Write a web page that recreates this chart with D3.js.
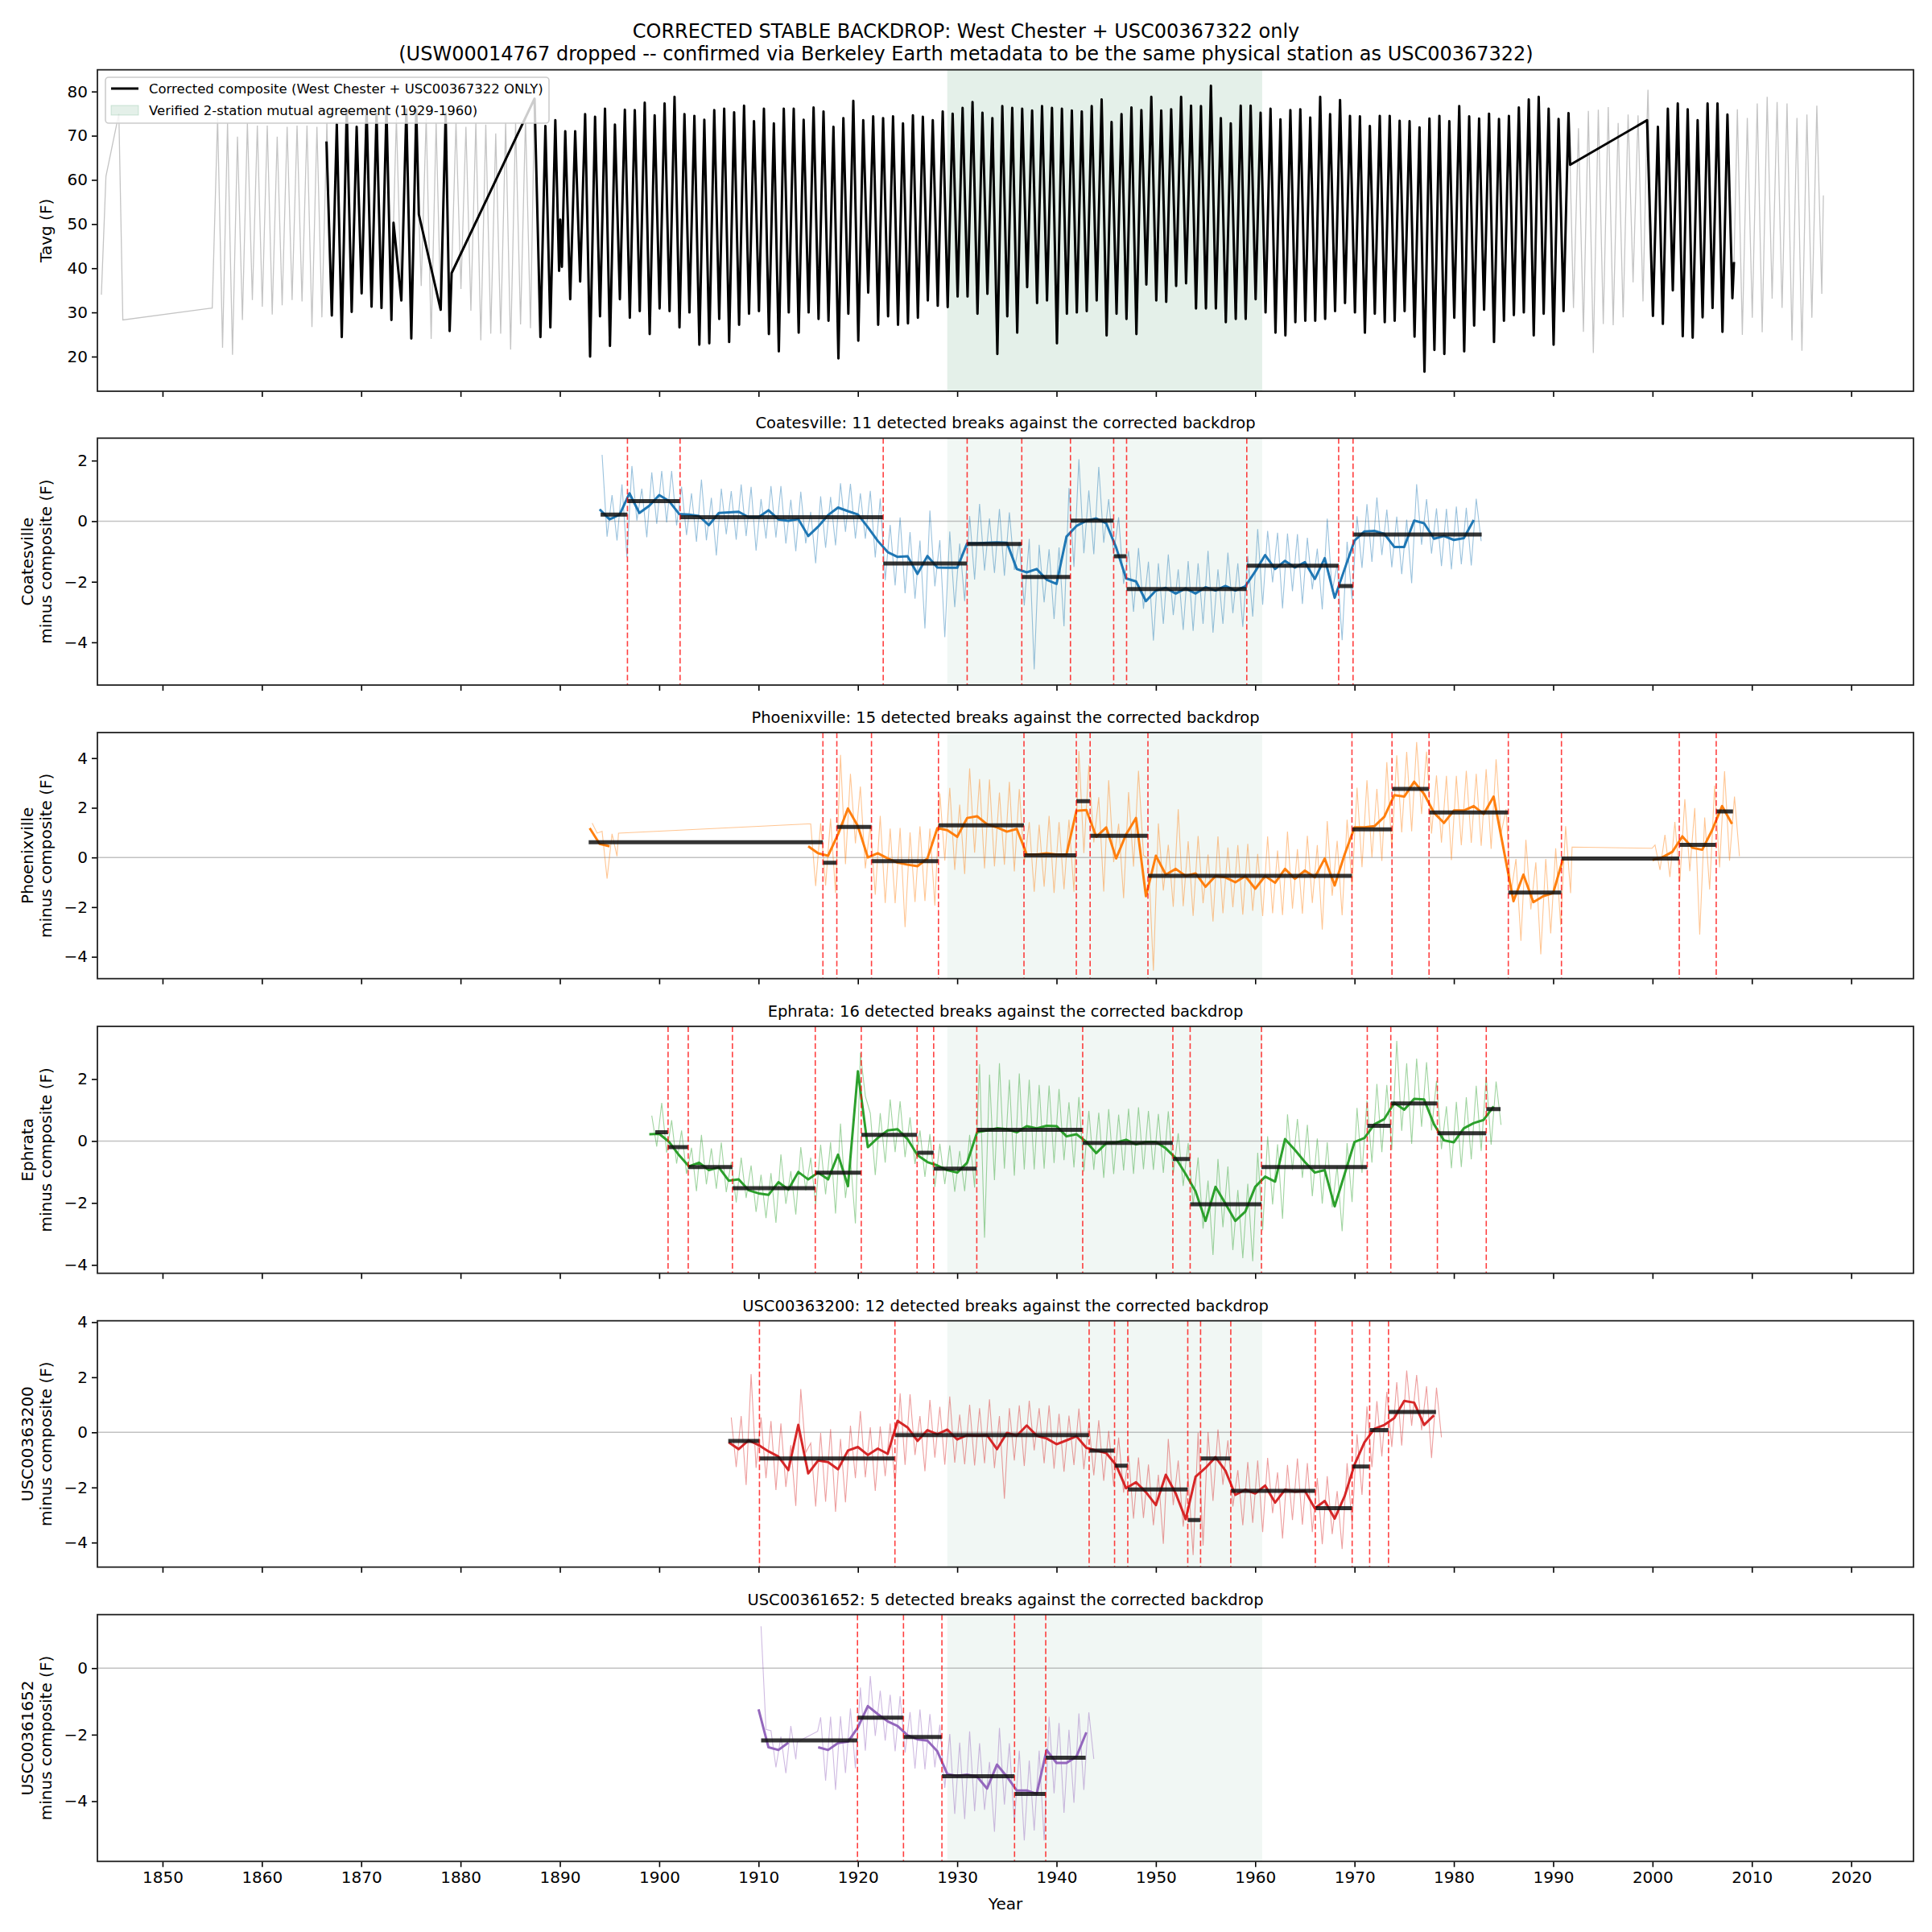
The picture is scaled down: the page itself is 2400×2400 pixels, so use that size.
<!DOCTYPE html>
<html lang="en">
<head>
<meta charset="UTF-8">
<title>Corrected stable backdrop</title>
<script src="https://cdn.jsdelivr.net/npm/d3@7/dist/d3.min.js"></script>
<style>
  body { margin: 0; background: #fff; }
  svg { display: block; font-family: "DejaVu Sans", sans-serif; }
</style>
</head>
<body>
<div id="chart"></div>
<script>
// ---- top panel: corrected composite (Jan troughs / Jul peaks, deg F) ----
const compEarlyYear0 = 1867
const compEarlyJan = [29.3, 24.4, 30.1, 34.3, 31.3, 31.0, 28.3, 32.7, 24.1]
const compEarlyJul = [72.6, 76.0, 72.0, 76.0, 75.0, 76.0, null, 76.0, 76.0]

const compMainYear0 = 1888
const compMainJan = [
  24.4, 26.6, 51.0, 33.0, 37.0, 20.0, 29.1, 22.4, 33.0, 28.8,
  30.3, 25.1, 30.9, 30.3, 26.6, 30.0, 22.7, 23.0, 28.5, 23.3,
  27.2, 29.7, 30.3, 25.1, 21.2, 30.0, 25.4, 30.0, 28.5, 28.1,
  19.6, 29.7, 23.6, 34.5, 27.2, 29.1, 27.2, 27.5, 28.8, 32.7,
  31.5, 31.2, 33.6, 33.6, 29.7, 34.2, 20.6, 29.1, 25.4, 35.7,
  32.1, 32.7, 23.0, 29.7, 30.0, 30.3, 32.7, 24.8, 29.7, 28.5,
  25.1, 36.3, 32.7, 32.4, 36.0, 36.6, 30.9, 30.9, 30.9, 27.8,
  28.5, 28.5, 33.0, 30.0, 25.4, 24.8, 27.8, 28.1, 28.1, 28.5,
  30.3, 32.1, 30.0, 25.4, 29.7, 27.8, 28.1, 30.3, 24.5, 16.6,
  21.5, 20.6, 28.8, 21.2, 27.0, 30.6, 23.3, 28.1, 29.4, 30.0,
  24.8, 29.7, 22.7, 30.3
]
const compMainJul = [
  72.2, 73.5, 71.0, 71.0, 74.9, 74.3, 76.1, 72.5, 75.9, 75.8,
  77.5, 74.6, 77.3, 78.8, 74.9, 74.5, 73.6, 75.8, 76.1, 75.3,
  76.8, 73.3, 76.1, 72.8, 76.1, 76.1, 73.6, 76.4, 75.5, 72.0,
  74.0, 77.9, 73.5, 74.4, 74.0, 74.4, 72.8, 74.6, 74.3, 73.5,
  75.5, 75.0, 76.3, 77.6, 75.2, 74.0, 76.7, 76.3, 76.1, 75.7,
  76.7, 76.3, 76.1, 75.7, 75.5, 76.7, 78.2, 73.1, 74.9, 76.4,
  75.8, 78.8, 75.7, 76.0, 78.8, 76.8, 76.7, 81.3, 74.0, 72.8,
  76.8, 76.8, 75.2, 76.1, 73.7, 75.8, 76.0, 74.1, 78.8, 74.9,
  78.1, 74.5, 74.4, 72.2, 74.5, 74.5, 73.4, 73.3, 71.9, 73.9,
  74.5, 73.3, 76.7, 74.4, 73.9, 75.0, 73.8, 74.5, 76.4, 78.2,
  78.8, 76.1, 73.8, 75.1
]

const compLateYear0 = 2000
const compLateJan = [29.2, 27.4, 35.0, 24.6, 24.3, 28.9, 31.0, 25.6, 33.2]
const compLateJul = [72.0, 76.1, 77.3, 76.0, 73.5, 77.3, 77.3, 74.8]

// odd months, partial years and the straight runs across gaps
const compExtra = [
  [1866.5, 68.7], [1873.25, 50.3], [1875.8, 52.2], [1878.0, 30.6], [1878.5, 75.0],
  [1878.9, 25.8], [1879.1, 38.9], [1887.45, 78.4], [1889.92, 39.4], [1890.2, 40.3],
  [1991.7, 63.4], [1999.45, 73.5], [2008.2, 41.4]
]

// grey raw record where the composite has no data
const grayYears = [
  1855, 1856, 1857, 1858, 1859, 1860, 1861, 1862, 1863, 1864, 1865, 1866,
  1873, 1876, 1877,
  1879, 1880, 1881, 1882, 1883, 1884, 1885, 1886, 1887,
  1992, 1993, 1994, 1995, 1996, 1997, 1998, 1999,
  2008, 2009, 2010, 2011, 2012, 2013, 2014, 2015, 2016, 2017
]
const grayJan = [
  null, 22.0, 20.4, 28.3, 32.8, 31.3, 29.5, 31.6, 32.8, 32.5, 26.7, 28.9,
  null, 36.0, 24.0,
  null, 35.3, 30.4, 23.7, 25.2, 25.2, 21.6, 27.3, 26.4,
  31.0, 25.6, 20.8, 27.4, 27.1, 28.9, 36.8, 32.5,
  null, 24.9, 28.8, 25.5, 33.1, 31.0, 23.7, 21.3, 28.8, 34.2
]
const grayJul = [
  74.1, 72.9, 69.8, 72.9, 72.3, 72.3, 69.8, 72.0, 72.3, 72.3, 72.0, 73.0,
  74.0, 74.0, 73.0,
  73.0, 72.0, 73.0, 72.5, 70.5, 73.0, 73.0, 74.0, null,
  71.7, 75.6, 75.9, 76.5, 72.9, 74.8, 74.6, 80.4,
  76.0, 74.0, 77.3, 78.8, 77.6, 77.3, 74.0, 74.8, 76.8, null
]
const grayExtra = [[1843.84, 34.0], [1844.3, 60.8], [1845.6, 75.0], [1846.0, 28.3], [1855.0, 31.0], [2017.2, 56.5]]

const agreeSpan = [1929.0, 1960.7]

// ---- station minus composite (deg F): annual means, monthly spread, segments, breaks ----
const coYear0 = 1894
const coAnnual = [
  0.39, 0.06, 0.21, 0.92, 0.27, 0.51, 0.86, 0.66, 0.24, 0.22,
  0.17, -0.13, 0.27, 0.29, 0.31, 0.13, 0.13, 0.36, 0.06, 0.01,
  0.07, -0.49, -0.18, 0.20, 0.45, 0.33, 0.22, -0.20, -0.65, -1.02,
  -1.18, -1.16, -1.74, -1.15, -1.53, -1.54, -1.54, -0.73, -0.73, -0.71,
  -0.70, -0.71, -1.58, -1.69, -1.58, -1.93, -2.07, -0.51, -0.16, 0.01,
  0.09, -0.07, -0.87, -1.89, -1.99, -2.64, -2.29, -2.20, -2.39, -2.22,
  -2.39, -2.18, -2.29, -2.14, -2.29, -2.15, -1.66, -1.12, -1.58, -1.31,
  -1.53, -1.35, -1.91, -1.22, -2.53, -1.58, -0.64, -0.34, -0.32, -0.42,
  -0.85, -0.85, 0.02, -0.07, -0.58, -0.49, -0.62, -0.56, 0.04
]
const coUp = [
  1.8, 0.8, 1.0, 0.9, 0.8, 1.1, 0.8, 1.0, 0.9, 0.7,
  1.2, 0.9, 0.8, 0.7, 0.9, 1.0, 0.6, 0.8, 1.1, 0.7,
  0.9, 0.8, 1.0, 0.6, 0.8, 0.9, 0.7, 1.2, 1.4, 0.9,
  1.3, 0.8, 1.1, 1.5, 0.9, 1.2, 0.8, 0.9, 1.3, 0.8,
  1.1, 1.0, 0.9, 1.1, 0.8, 1.0, 1.2, 1.6, 2.2, 1.0,
  1.7, 0.8, 1.0, 0.9, 1.1, 1.3, 0.9, 1.1, 0.8, 0.9,
  1.0, 1.2, 0.7, 1.1, 0.9, 1.0, 1.4, 0.8, 1.2, 0.9,
  1.1, 0.8, 1.0, 1.3, 1.1, 0.9, 0.8, 0.9, 1.1, 0.8,
  1.0, 0.9, 1.2, 0.8, 1.0, 0.9, 1.1, 1.0, 0.7
]
const coDn = [
  0.9, 0.7, 1.4, 0.9, 0.8, 0.6, 0.9, 0.8, 0.7, 0.9,
  0.8, 1.0, 0.7, 0.9, 0.8, 1.1, 0.7, 0.9, 0.8, 1.0,
  0.8, 0.9, 0.7, 1.0, 0.8, 0.9, 0.8, 1.0, 1.3, 1.1,
  1.2, 1.4, 1.8, 1.0, 2.3, 1.3, 1.1, 1.2, 0.9, 1.0,
  1.1, 0.9, 1.2, 3.2, 1.1, 1.3, 1.4, 1.0, 0.9, 1.1,
  0.8, 1.0, 1.2, 1.1, 0.9, 1.3, 1.1, 0.9, 1.2, 1.4,
  1.0, 1.5, 1.1, 0.9, 1.2, 1.0, 1.1, 0.9, 1.3, 1.0,
  1.2, 0.9, 1.0, 1.1, 1.4, 1.0, 0.9, 1.0, 0.8, 1.1,
  0.9, 1.2, 0.8, 1.0, 0.9, 1.1, 0.8, 0.9, 0.7
]
const coSpan = [1894.1, 1982.8]
const coBreaks = [1896.8, 1902.1, 1922.55, 1931.0, 1936.5, 1941.4, 1945.75, 1947.05, 1959.15, 1968.4, 1969.85]
const coLevels = [0.22, 0.66, 0.13, -1.40, -0.75, -1.84, 0.02, -1.16, -2.24, -1.47, -2.14, -0.44]

const phYear0 = 1893
const N19 = [null, null, null, null, null, null, null, null, null, null, null, null, null, null, null, null, null, null, null]
const N8 = [null, null, null, null, null, null, null, null]
const phAnnual = [
  1.18, 0.55, 0.45, ...N19,
  0.45, 0.17, 0.07, 0.93, 1.97, 1.26, 0.00, 0.17, -0.04, -0.21,
  -0.29, -0.35, -0.04, 1.18, 1.10, 0.83, 1.59, 1.66, 1.34, 1.21,
  1.04, 1.15, 0.12, 0.12, 0.17, 0.12, 0.12, 1.88, 1.91, 0.83,
  1.21, -0.04, 0.93, 1.59, -1.56, 0.07, -0.69, -0.46, -0.75, -0.64,
  -1.18, -0.75, -0.80, -1.00, -0.75, -1.26, -0.75, -1.02, -0.46, -0.86,
  -0.53, -0.80, -0.04, -1.13, 0.12, 1.21, 1.21, 1.26, 1.64, 2.51,
  2.45, 3.05, 2.56, 1.80, 1.39, 1.89, 1.89, 2.07, 1.75, 2.45,
  0.35, -1.76, -0.69, -1.80, -1.56, -1.43, -0.04, ...N8,
  -0.10, 0.01, 0.23, 0.85, 0.39, 0.31, 1.10, 2.07, 1.35
]
const phUp = [
  0.2, 0.5, 0.5, ...N19,
  0.9, 1.2, 1.5, 3.2, 1.4, 1.6, 1.3, 1.5, 1.2, 1.4,
  1.3, 1.6, 1.2, 1.4, 1.7, 1.3, 2.0, 1.5, 1.8, 1.4,
  2.0, 1.6, 1.3, 1.2, 1.5, 1.3, 1.4, 2.4, 1.8, 1.6,
  1.9, 1.4, 1.7, 1.9, 1.5, 1.3, 1.2, 2.4, 1.4, 1.5,
  1.3, 1.6, 1.2, 1.5, 1.3, 1.4, 1.6, 1.3, 1.5, 1.2,
  1.4, 1.3, 1.5, 1.8, 1.4, 1.6, 1.9, 1.5, 2.2, 1.6,
  1.8, 1.6, 1.7, 1.5, 1.9, 1.4, 1.6, 1.3, 1.8, 1.5,
  1.6, 1.7, 1.4, 1.6, 1.5, 1.8, 1.3, ...N8,
  0.6, 0.9, 1.2, 1.5, 1.6, 1.3, 1.8, 1.4, 1.1
]
const phDn = [
  0.2, 1.4, 0.4, ...N19,
  1.6, 1.3, 1.5, 1.2, 1.4, 1.7, 1.5, 2.0, 1.8, 2.6,
  1.5, 1.4, 1.9, 1.3, 1.6, 1.5, 1.4, 2.1, 1.7, 1.5,
  1.6, 1.4, 1.5, 1.3, 1.6, 1.4, 1.5, 1.7, 1.3, 2.2,
  1.4, 1.6, 1.3, 1.5, 3.0, 1.4, 1.3, 1.5, 1.6, 1.2,
  1.4, 1.5, 1.2, 1.3, 1.4, 1.1, 1.5, 1.3, 1.6, 1.4,
  1.3, 2.1, 1.5, 1.2, 1.3, 1.6, 1.2, 1.4, 1.3, 1.5,
  1.4, 1.3, 1.6, 1.2, 1.5, 1.4, 1.3, 1.6, 1.4, 1.5,
  1.8, 1.6, 1.4, 2.1, 1.5, 1.3, 1.4, ...N8,
  0.4, 0.8, 1.2, 1.4, 3.5, 1.6, 1.5, 2.2, 1.3
]
const phThinExtra = [[1895.9, 0.98], [1914.95, 1.35], [1991.9, 0.42], [1999.95, 0.37]]
const phSpan = [1892.9, 2008.1]
const phBreaks = [1916.48, 1917.88, 1921.37, 1928.11, 1936.72, 1941.99, 1943.38, 1949.2, 1969.74, 1973.77, 1977.5, 1985.48, 1990.83, 2002.69, 2006.41]
const phLevels = [0.61, -0.21, 1.23, -0.15, 1.29, 0.09, 2.27, 0.87, -0.74, 1.13, 2.76, 1.81, -1.41, -0.04, 0.51, 1.85]

const epYear0 = 1899
const epAnnual = [
  0.22, 0.23, -0.03, -0.46, -0.82, -0.70, -0.94, -0.85, -1.28, -1.24,
  -1.59, -1.69, -1.74, -1.33, -1.57, -1.00, -1.24, -1.02, -1.24, -0.44,
  -1.46, 2.25, -0.20, 0.10, 0.34, 0.38, 0.06, -0.46, -0.68, -0.79,
  -0.94, -1.02, -0.70, 0.28, 0.34, 0.41, 0.38, 0.28, 0.48, 0.41,
  0.49, 0.48, 0.15, 0.22, -0.03, -0.39, -0.07, -0.05, 0.04, -0.11,
  -0.03, -0.03, -0.24, -0.55, -1.07, -1.63, -2.58, -1.48, -2.02, -2.58,
  -2.28, -1.48, -1.15, -1.31, 0.06, -0.29, -0.68, -1.02, -0.94, -2.11,
  -1.07, -0.03, 0.10, 0.54, 0.71, 1.23, 1.01, 1.36, 1.34, 0.54,
  0.02, -0.04, 0.41, 0.58, 0.68, 1.12
]
const epUp = [
  0.6, 1.0, 0.7, 0.8, 0.6, 0.9, 0.7, 0.8, 0.6, 0.7,
  0.8, 0.6, 0.7, 0.9, 0.6, 0.8, 0.7, 0.9, 1.2, 1.0,
  0.9, 0.6, 1.1, 0.8, 1.0, 0.9, 0.7, 0.8, 0.9, 0.7,
  0.8, 0.7, 0.9, 2.2, 1.8, 2.1, 1.6, 1.9, 1.5, 1.4,
  1.3, 1.2, 1.1, 1.2, 1.0, 1.3, 1.1, 0.9, 1.0, 1.2,
  1.0, 0.9, 1.2, 0.8, 1.0, 1.1, 1.3, 0.9, 1.2, 1.0,
  0.9, 1.1, 1.3, 1.2, 0.8, 1.0, 1.2, 1.1, 0.9, 1.3,
  1.0, 1.1, 1.2, 1.3, 1.1, 2.0, 1.5, 1.3, 1.2, 1.4,
  1.1, 1.3, 1.0, 1.2, 1.4, 0.8
]
const epDn = [
  0.4, 0.6, 0.7, 0.6, 0.8, 0.7, 0.6, 0.8, 0.7, 0.6,
  0.7, 0.8, 0.9, 0.7, 0.8, 0.6, 0.8, 0.7, 1.1, 1.4,
  1.2, 0.8, 0.9, 0.8, 0.7, 0.9, 0.8, 0.7, 0.8, 0.6,
  0.7, 0.6, 0.8, 3.4, 1.6, 1.3, 1.5, 1.2, 1.4, 1.3,
  1.2, 1.1, 1.0, 1.2, 0.9, 0.8, 1.0, 0.9, 1.1, 0.8,
  0.9, 1.0, 0.8, 0.9, 1.0, 1.2, 1.1, 1.3, 1.5, 1.2,
  1.6, 1.4, 0.9, 1.2, 1.0, 0.9, 1.1, 1.0, 1.2, 0.8,
  0.9, 1.0, 0.8, 0.9, 1.0, 0.9, 1.1, 0.9, 1.0, 0.8,
  0.9, 0.8, 1.0, 0.9, 0.8, 0.6
]
const epSpan = [1899.6, 1984.7]
const epBreaks = [1900.89, 1902.92, 1907.37, 1915.71, 1920.34, 1925.96, 1927.63, 1931.97, 1942.63, 1951.71, 1953.45, 1960.63, 1971.28, 1973.65, 1978.34, 1983.26]
const epLevels = [0.28, -0.20, -0.84, -1.52, -1.02, 0.20, -0.38, -0.89, 0.36, -0.06, -0.58, -2.04, -0.84, 0.49, 1.21, 0.25, 1.03]

const usYear0 = 1907
const usAnnual = [
  -0.36, -0.61, -0.29, -0.46, -0.69, -0.88, -1.37, 0.27, -1.49, -1.02,
  -1.08, -1.34, -0.66, -0.53, -0.82, -0.59, -0.78, 0.42, 0.18, -0.31,
  0.08, -0.07, 0.10, -0.26, -0.10, -0.12, -0.10, -0.61, -0.02, -0.12,
  0.25, -0.12, -0.22, -0.43, -0.29, -0.14, -0.56, -0.66, -0.75, -1.19,
  -2.03, -1.81, -2.17, -2.64, -1.54, -2.22, -3.15, -1.61, -1.29, -0.90,
  -1.39, -2.27, -2.08, -2.22, -1.93, -2.55, -2.08, -2.15, -2.12, -2.76,
  -2.49, -3.13, -2.32, -1.17, -0.36, 0.13, 0.27, 0.52, 1.14, 1.08,
  0.27, 0.62
]
const usUp = [
  0.9, 1.2, 2.4, 1.0, 1.1, 1.2, 0.9, 1.3, 1.1, 1.0,
  1.2, 1.1, 0.9, 1.3, 1.0, 0.8, 1.1, 1.0, 1.2, 0.9,
  1.1, 1.0, 1.2, 0.9, 1.1, 1.0, 1.3, 1.2, 0.9, 1.1,
  0.9, 1.0, 1.2, 1.1, 0.9, 1.0, 0.9, 1.1, 0.8, 1.0,
  1.2, 0.9, 1.0, 1.1, 1.3, 1.2, 1.5, 1.6, 1.3, 1.0,
  1.1, 0.9, 1.0, 1.2, 1.0, 1.1, 0.9, 1.2, 1.0, 1.1,
  0.9, 1.0, 1.2, 1.1, 1.3, 1.0, 1.2, 1.3, 1.1, 1.0,
  1.4, 1.0
]
const usDn = [
  0.9, 1.3, 1.0, 1.2, 1.4, 1.1, 1.3, 1.0, 1.2, 1.5,
  1.8, 1.2, 1.0, 1.1, 1.3, 1.0, 1.2, 1.6, 1.0, 1.1,
  1.0, 1.1, 1.2, 0.9, 1.1, 1.0, 1.2, 1.8, 1.0, 1.1,
  0.9, 1.0, 1.1, 1.0, 0.9, 1.2, 1.0, 1.1, 1.2, 1.0,
  1.1, 1.3, 1.2, 1.4, 1.1, 1.2, 1.3, 2.5, 1.2, 1.0,
  1.3, 1.1, 1.2, 1.4, 1.0, 1.3, 1.1, 1.2, 1.5, 1.3,
  1.2, 1.1, 1.0, 1.1, 0.9, 1.0, 0.8, 1.0, 0.9, 1.0,
  1.2, 0.8
]
const usSpan = [1906.95, 1978.2]
const usBreaks = [1910.09, 1923.73, 1943.28, 1945.84, 1947.17, 1953.21, 1954.5, 1957.54, 1966.05, 1969.76, 1971.52, 1973.42]
const usLevels = [-0.31, -0.95, -0.10, -0.66, -1.21, -2.07, -3.18, -0.95, -2.12, -2.75, -1.24, 0.08, 0.74]

const unYear0 = 1910
const unAnnual = [
  -1.24, -2.38, -2.46, -2.24, null, null, -2.38, -2.46, -2.25, -2.21,
  -1.78, -1.14, -1.38, -1.60, -1.74, -2.02, -2.14, -2.18, -2.50, -3.18,
  -3.24, -3.20, -3.26, -3.62, -2.90, -3.26, -3.68, -3.68, -3.78, -2.46,
  -2.85, -2.85, -2.66, -1.93
]
const unUp = [
  2.5, 0.5, 0.4, 0.5, null, null, 0.9, 1.0, 0.8, 1.0,
  1.2, 0.9, 0.7, 0.8, 0.9, 0.7, 0.9, 0.8, 0.8, 1.2,
  1.0, 1.3, 1.0, 0.8, 1.1, 1.0, 1.2, 0.9, 1.3, 1.0,
  1.2, 1.0, 1.3, 0.6
]
const unDn = [
  0.6, 0.6, 0.7, 0.5, null, null, 1.0, 1.2, 0.9, 0.8,
  0.7, 0.9, 0.8, 0.9, 0.8, 1.0, 0.9, 0.8, 1.1, 1.2,
  1.3, 1.1, 1.0, 1.3, 1.2, 1.4, 1.5, 1.2, 1.4, 1.3,
  1.5, 1.2, 1.0, 0.8
]
const unThinExtra = [[1913.9, -2.22], [1915.95, -1.90]]
const unSpan = [1910.26, 1942.93]
const unBreaks = [1919.96, 1924.59, 1928.46, 1935.77, 1938.91]
const unLevels = [-2.17, -1.49, -2.07, -3.25, -3.78, -2.69]

const xTicks = d3.range(1850, 2021, 10)

// ---------------------------------------------------------------------
const W = 2400, H = 2400
const left = 121, right = 2377
const x = d3.scaleLinear().domain([1843.44, 2026.27]).range([left, right])
const minus = d => d3.format("d")(d).replace("-", "\u2212")

const svg = d3.select("#chart").append("svg").attr("width", W).attr("height", H)
svg.append("rect").attr("width", W).attr("height", H).attr("fill", "#fff")

svg.append("text").attr("x", 1200).attr("y", 47).attr("text-anchor", "middle")
  .attr("font-size", 24).text("CORRECTED STABLE BACKDROP: West Chester + USC00367322 only")
svg.append("text").attr("x", 1200).attr("y", 75).attr("text-anchor", "middle")
  .attr("font-size", 24).text("(USW00014767 dropped -- confirmed via Berkeley Earth metadata to be the same physical station as USC00367322)")

function cyclePoints(year0, jan, jul) {
  const pts = []
  jan.forEach((v, i) => { if (v != null) pts.push([year0 + i + 0.04, v]) })
  jul.forEach((v, i) => { if (v != null) pts.push([year0 + i + 0.54, v]) })
  return pts
}

function makeAxes(id, top, bottom, yDomain, yTicks, labelLines, showX) {
  const y = d3.scaleLinear().domain(yDomain).range([bottom, top])
  const g = svg.append("g")
  g.append("clipPath").attr("id", id).append("rect")
    .attr("x", left).attr("y", top).attr("width", right - left).attr("height", bottom - top)
  const plot = g.append("g").attr("clip-path", `url(#${id})`)

  const yAx = g.append("g").attr("transform", `translate(${left},0)`)
    .call(d3.axisLeft(y).tickValues(yTicks).tickSize(7).tickPadding(5).tickFormat(minus))
  const xAx = g.append("g").attr("transform", `translate(0,${bottom})`)
    .call(d3.axisBottom(x).tickValues(xTicks).tickSize(7).tickPadding(6)
      .tickFormat(showX ? d3.format("d") : ""))
  ;[yAx, xAx].forEach(a => {
    a.select(".domain").remove()
    a.selectAll("line").attr("stroke", "#000").attr("stroke-width", 1.6)
    a.selectAll("text").attr("font-size", 20).attr("fill", "#000").attr("font-family", "DejaVu Sans")
  })

  const lab = g.append("text").attr("transform", `translate(0,${(top + bottom) / 2}) rotate(-90)`)
    .attr("text-anchor", "middle").attr("font-size", 20)
  labelLines.forEach((t, i) => {
    const xPos = 57 - (labelLines.length - 1 - i) * 23
    lab.append("tspan").attr("x", 0).attr("y", xPos).attr("dy", "0.35em").text(t)
  })

  return { g, plot, y, top, bottom, frame: () => g.append("rect").attr("x", left).attr("y", top)
    .attr("width", right - left).attr("height", bottom - top)
    .attr("fill", "none").attr("stroke", "#222").attr("stroke-width", 1.8) }
}

// ---- top panel ----
{
  const ax = makeAxes("clip0", 86.7, 486, [12.16, 84.92], d3.range(20, 81, 10), ["Tavg (F)"], false)
  const { plot, y } = ax
  plot.append("rect").attr("x", x(agreeSpan[0])).attr("y", ax.top)
    .attr("width", x(agreeSpan[1]) - x(agreeSpan[0])).attr("height", ax.bottom - ax.top)
    .attr("fill", "seagreen").attr("fill-opacity", 0.13)

  const comp = [
    ...cyclePoints(compEarlyYear0, compEarlyJan, compEarlyJul),
    ...cyclePoints(compMainYear0, compMainJan, compMainJul),
    ...cyclePoints(compLateYear0, compLateJan, compLateJul),
    ...compExtra
  ].sort((a, b) => a[0] - b[0])

  const gray = [...comp, ...grayExtra]
  grayYears.forEach((yr, i) => {
    if (grayJan[i] != null) gray.push([yr + 0.04, grayJan[i]])
    if (grayJul[i] != null) gray.push([yr + 0.54, grayJul[i]])
  })
  gray.sort((a, b) => a[0] - b[0])

  const line = d3.line().x(d => x(d[0])).y(d => y(d[1]))
  plot.append("path").attr("d", line(gray)).attr("fill", "none")
    .attr("stroke", "#c4c4c4").attr("stroke-width", 1.3)
  plot.append("path").attr("d", line(comp)).attr("fill", "none")
    .attr("stroke", "#000").attr("stroke-width", 3).attr("stroke-linejoin", "round")
  ax.frame()

  const lg = ax.g.append("g")
  lg.append("rect").attr("x", 131).attr("y", 96).attr("width", 551).attr("height", 57).attr("rx", 4)
    .attr("fill", "#fff").attr("fill-opacity", 0.8).attr("stroke", "#cccccc").attr("stroke-width", 1.6)
  lg.append("line").attr("x1", 138).attr("x2", 172).attr("y1", 110).attr("y2", 110)
    .attr("stroke", "#000").attr("stroke-width", 3)
  lg.append("rect").attr("x", 138).attr("y", 131).attr("width", 34).attr("height", 12)
    .attr("fill", "seagreen").attr("fill-opacity", 0.13).attr("stroke", "seagreen").attr("stroke-opacity", 0.2)
  lg.append("text").attr("x", 185).attr("y", 110).attr("dy", "0.35em").attr("font-size", 16.5)
    .text("Corrected composite (West Chester + USC00367322 ONLY)")
  lg.append("text").attr("x", 185).attr("y", 137).attr("dy", "0.35em").attr("font-size", 16.5)
    .text("Verified 2-station mutual agreement (1929-1960)")
}

// ---- difference panels ----
const stations = [
  { name: "Coatesville", color: "#1f77b4", top: 544.3, bottom: 851, dom: [-5.41, 2.74], ticks: [-4, -2, 0, 2],
    year0: coYear0, annual: coAnnual, up: coUp, dn: coDn, extra: [], span: coSpan, breaks: coBreaks, levels: coLevels },
  { name: "Phoenixville", color: "#ff7f0e", top: 910, bottom: 1215.7, dom: [-4.88, 5.03], ticks: [-4, -2, 0, 2, 4],
    year0: phYear0, annual: phAnnual, up: phUp, dn: phDn, extra: phThinExtra, span: phSpan, breaks: phBreaks, levels: phLevels },
  { name: "Ephrata", color: "#2ca02c", top: 1275, bottom: 1581.7, dom: [-4.27, 3.70], ticks: [-4, -2, 0, 2],
    year0: epYear0, annual: epAnnual, up: epUp, dn: epDn, extra: [], span: epSpan, breaks: epBreaks, levels: epLevels },
  { name: "USC00363200", color: "#d62728", top: 1640.7, bottom: 1946.7, dom: [-4.89, 4.05], ticks: [-4, -2, 0, 2, 4],
    year0: usYear0, annual: usAnnual, up: usUp, dn: usDn, extra: [], span: usSpan, breaks: usBreaks, levels: usLevels },
  { name: "USC00361652", color: "#9467bd", top: 2005.7, bottom: 2312.3, dom: [-5.81, 1.61], ticks: [-4, -2, 0],
    year0: unYear0, annual: unAnnual, up: unUp, dn: unDn, extra: unThinExtra, span: unSpan, breaks: unBreaks, levels: unLevels }
]

stations.forEach((s, k) => {
  const last = k === stations.length - 1
  const ax = makeAxes("clip" + (k + 1), s.top, s.bottom, s.dom, s.ticks, [s.name, "minus composite (F)"], last)
  const { plot, y } = ax

  plot.append("rect").attr("x", x(agreeSpan[0])).attr("y", s.top)
    .attr("width", x(agreeSpan[1]) - x(agreeSpan[0])).attr("height", s.bottom - s.top)
    .attr("fill", "seagreen").attr("fill-opacity", 0.065)
  plot.append("line").attr("x1", left).attr("x2", right).attr("y1", y(0)).attr("y2", y(0))
    .attr("stroke", "#999").attr("stroke-opacity", 0.6).attr("stroke-width", 1.5)

  // monthly spread around each annual mean
  const thin = [...s.extra]
  s.annual.forEach((v, i) => {
    if (v == null) return
    thin.push([s.year0 + i + 0.25, v + s.up[i]])
    thin.push([s.year0 + i + 0.75, v - s.dn[i]])
  })
  thin.sort((a, b) => a[0] - b[0])
  const line = d3.line().x(d => x(d[0])).y(d => y(d[1]))
  plot.append("path").attr("d", line(thin)).attr("fill", "none")
    .attr("stroke", s.color).attr("stroke-opacity", 0.45).attr("stroke-width", 1.1)

  const ann = s.annual.map((v, i) => [s.year0 + i, v])
  plot.append("path").attr("d", line.defined(d => d[1] != null)(ann)).attr("fill", "none")
    .attr("stroke", s.color).attr("stroke-width", 3).attr("stroke-linejoin", "round")

  const edges = [s.span[0], ...s.breaks, s.span[1]]
  plot.selectAll(null).data(s.levels).join("line")
    .attr("x1", (d, i) => x(edges[i])).attr("x2", (d, i) => x(edges[i + 1]))
    .attr("y1", d => y(d)).attr("y2", d => y(d))
    .attr("stroke", "#111").attr("stroke-opacity", 0.85).attr("stroke-width", 5)

  plot.selectAll(null).data(s.breaks).join("line")
    .attr("x1", d => x(d)).attr("x2", d => x(d)).attr("y1", s.top).attr("y2", s.bottom)
    .attr("stroke", "red").attr("stroke-opacity", 0.75).attr("stroke-width", 1.6)
    .attr("stroke-dasharray", "7,3.5")

  ax.frame()
  ax.g.append("text").attr("x", (left + right) / 2).attr("y", s.top - 12).attr("text-anchor", "middle")
    .attr("font-size", 19.5).text(`${s.name}: ${s.breaks.length} detected breaks against the corrected backdrop`)
})

svg.append("text").attr("x", (left + right) / 2).attr("y", 2372).attr("text-anchor", "middle")
  .attr("font-size", 20).text("Year")
</script>
</body>
</html>
